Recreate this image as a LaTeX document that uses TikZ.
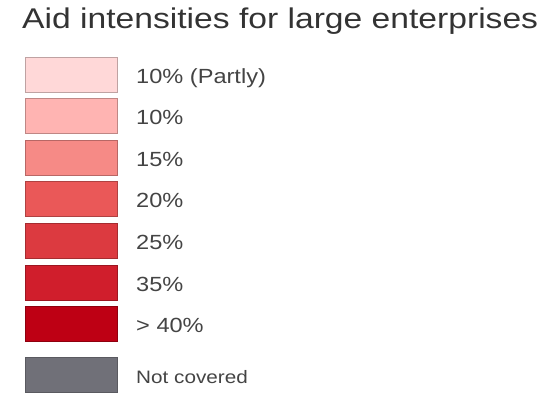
\documentclass[tikz,border=0pt]{standalone}
\usepackage{fontspec}
\setmainfont{Liberation Sans}
\usetikzlibrary{positioning,calc}
\definecolor{r1}{RGB}{255,216,216}
\definecolor{r2}{RGB}{255,180,178}
\definecolor{r3}{RGB}{246,138,134}
\definecolor{r4}{RGB}{234,88,88}
\definecolor{r5}{RGB}{220,58,64}
\definecolor{r6}{RGB}{208,30,44}
\definecolor{r7}{RGB}{190,0,20}
\definecolor{nc}{RGB}{112,112,120}
\definecolor{tx}{HTML}{444444}
\definecolor{ti}{HTML}{333333}

\begin{document}
\begin{tikzpicture}[x=1pt, y=-1pt,
    keybox/.style={minimum width=92pt, minimum height=35pt, inner sep=0pt, outer sep=0pt, line width=0.7pt},
    keylabel/.style={anchor=base west, inner sep=0pt, xscale=1.15, text=tx, font=\fontsize{20.5}{24}\selectfont}]
    \useasboundingbox (0,0) rectangle (550,399);

    \node[anchor=base west, inner sep=0pt, xscale=1.18, text=ti, font=\fontsize{28.5}{32}\selectfont] (title) at (22,28) {Aid intensities for large enterprises};

    \foreach \i/\c/\t in {1/r1/10\% (Partly), 2/r2/10\%, 3/r3/15\%, 4/r4/20\%, 5/r5/25\%, 6/r6/35\%, 7/r7/> 40\%}{
        \coordinate (c\i) at (71, {74.5+41.6*(\i-1)});
        \node[keybox, draw=\c!75!black, fill=\c] (k\i) at (c\i) {};
        \node[keylabel] (l\i) at ($(c\i)+(65,8.5)$) {\t};
    };

    % not covered
    \coordinate (c8) at (71,374.5);
    \node[keybox, draw=nc!80!black, fill=nc] (k8) at (c8) {};
    \node[keylabel, font=\fontsize{18}{22}\selectfont] (l8) at ($(c8)+(65,8.5)$) {Not covered};
\end{tikzpicture}
\end{document}
